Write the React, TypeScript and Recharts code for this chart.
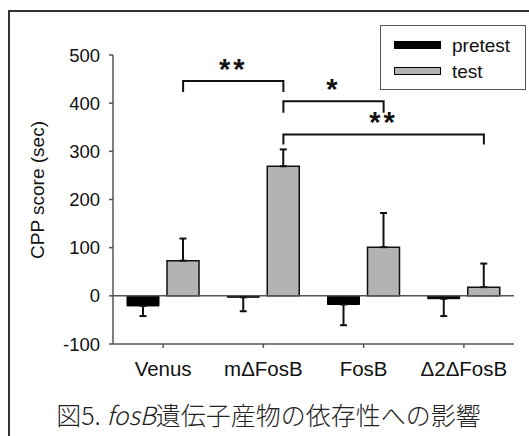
import React from "react";
import {
  BarChart, Bar, XAxis, YAxis, ErrorBar, ReferenceLine, Legend,
} from "recharts";

const groups = ["Venus", "mΔFosB", "FosB", "Δ2ΔFosB"];
const pretest = [-21, -3, -18, -6];
const pretestErr = [21, 29, 43, 36];
const test = [73, 269, 101, 18];
const testErr = [46, 35, 71, 49];
const yTicks = [-100, 0, 100, 200, 300, 400, 500];

// significance brackets: from group, to group, bracket height, end of drop, label
const brackets = [
  { from: "Venus", to: "mΔFosB", top: 446, drop: 423, label: "**" },
  { from: "mΔFosB", to: "FosB", top: 404, drop: 380, label: "*" },
  { from: "mΔFosB", to: "Δ2ΔFosB", top: 335, drop: 314, label: "**" },
];

const data = groups.map((g, i) => ({
  name: g,
  pretest: pretest[i],
  test: test[i],
  pretestErr: [pretestErr[i], 0],
  testErr: [0, testErr[i]],
}));

const FONT = "'Liberation Sans', Arial, sans-serif";
const GRAY = "#b3b3b3";
const BAR = 32;
const GAP = 8;
const SHIFT = GAP / 2 + BAR / 2; // test bar centre vs category centre

function bracketShape(label: string) {
  return (p: any) => {
    const x1 = p.x1 + SHIFT;
    const x2 = p.x2 + SHIFT;
    const yTop = p.y1;
    const yDrop = p.y2;
    return (
      <g>
        <path
          d={`M${x1},${yDrop}L${x1},${yTop}L${x2},${yTop}L${x2},${yDrop}`}
          fill="none"
          stroke="#111"
          strokeWidth={2}
        />
        <text
          x={(x1 + x2) / 2}
          y={yTop - 2}
          textAnchor="middle"
          fontFamily={FONT}
          fontWeight="bold"
          fontSize={29}
          letterSpacing={3}
          fill="#111"
        >
          {label}
        </text>
      </g>
    );
  };
}

function LegendBox() {
  const row = (name: string, swatch: React.CSSProperties) => (
    <div style={{ display: "flex", alignItems: "center", height: 26 }}>
      <div style={{ width: 47, height: 8, boxSizing: "border-box", marginRight: 11, ...swatch }} />
      <span>{name}</span>
    </div>
  );
  return (
    <div
      style={{
        width: 146,
        height: 65,
        boxSizing: "border-box",
        border: "1px solid #555",
        background: "#fff",
        padding: "6px 0 0 13px",
        fontFamily: FONT,
        fontSize: 19,
        color: "#111",
        lineHeight: 1,
      }}
    >
      {row("pretest", { background: "#000" })}
      {row("test", { background: GRAY, border: "1px solid #000" })}
    </div>
  );
}

export default function App() {
  return (
    <div style={{ position: "fixed", left: 0, top: 0, width: 529, height: 436, background: "#fff" }}>
      <div
        style={{
          position: "absolute",
          left: 8,
          top: 10,
          width: 521,
          height: 426,
          borderTop: "2px solid #333",
          borderLeft: "2px solid #333",
        }}
      />
      <div style={{ position: "absolute", left: 0, top: 0 }}>
        <BarChart
          width={529}
          height={436}
          data={data}
          margin={{ top: 55, right: 15, bottom: 62, left: 0 }}
          barSize={BAR}
          barGap={GAP}
        >
          <XAxis
            dataKey="name"
            axisLine={{ stroke: "#555", strokeWidth: 1.5 }}
            tickLine={{ stroke: "#555", strokeWidth: 1.5 }}
            tickSize={4}
            tickMargin={13}
            height={30}
            tick={{ fontFamily: FONT, fontSize: 20.5, fill: "#111" }}
            interval={0}
          />
          <YAxis
            domain={[-100, 500]}
            ticks={yTicks}
            width={113}
            allowDataOverflow
            axisLine={{ stroke: "#555", strokeWidth: 1.5 }}
            tickLine={{ stroke: "#555", strokeWidth: 1.5 }}
            tickSize={4}
            tickMargin={9}
            tick={{ fontFamily: FONT, fontSize: 18.5, fill: "#111" }}
            label={{
              content: () => (
                <text
                  x={37}
                  y={190}
                  transform="rotate(-90 37 190)"
                  textAnchor="middle"
                  dominantBaseline="central"
                  fontFamily={FONT}
                  fontSize={19}
                  fill="#111"
                >
                  CPP score (sec)
                </text>
              ),
            }}
          />
          <ReferenceLine y={0} stroke="#555" strokeWidth={1.5} />
          <Bar dataKey="pretest" fill="#000" stroke="#000" strokeWidth={1} isAnimationActive={false}>
            <ErrorBar dataKey="pretestErr" width={3.5} stroke="#111" strokeWidth={2} direction="y" />
          </Bar>
          <Bar dataKey="test" fill={GRAY} stroke="#111" strokeWidth={1.5} isAnimationActive={false}>
            <ErrorBar dataKey="testErr" width={3.5} stroke="#111" strokeWidth={2} direction="y" />
          </Bar>
          {brackets.map((b, i) => (
            <ReferenceLine
              key={i}
              segment={[{ x: b.from, y: b.top }, { x: b.to, y: b.drop }]}
              shape={bracketShape(b.label)}
              ifOverflow="visible"
            />
          ))}
          <Legend
            layout="vertical"
            align="center"
            verticalAlign="middle"
            wrapperStyle={{ left: 380, top: 25, width: 146 }}
            content={() => <LegendBox />}
          />
        </BarChart>
      </div>
      <div
        style={{
          position: "absolute",
          left: 8,
          top: 400,
          width: 521,
          textAlign: "center",
          fontFamily: "'Noto Sans CJK JP', sans-serif",
          fontWeight: 300,
          fontSize: 25,
          lineHeight: "28px",
          color: "#222",
        }}
      >
        図5. <i>fosB</i>遺伝子産物の依存性への影響
      </div>
    </div>
  );
}
